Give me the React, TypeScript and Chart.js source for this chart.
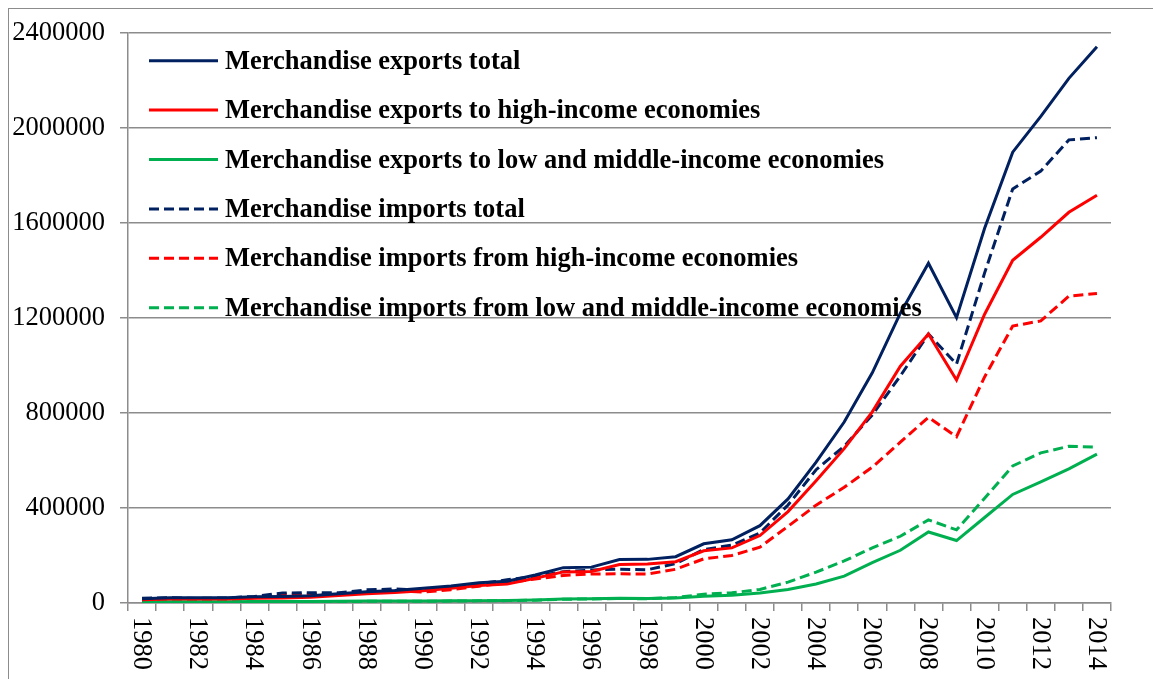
import React, { useEffect, useRef } from "react";
import { Chart, registerables } from "chart.js";

Chart.register(...registerables);

const years: string[] = [
  "1980", "1981", "1982", "1983", "1984", "1985", "1986", "1987", "1988", "1989",
  "1990", "1991", "1992", "1993", "1994", "1995", "1996", "1997", "1998", "1999",
  "2000", "2001", "2002", "2003", "2004", "2005", "2006", "2007", "2008", "2009",
  "2010", "2011", "2012", "2013", "2014",
];

const exportsTotal: number[] = [
  18099, 22007, 22321, 22226, 26139, 27350, 30942, 39437, 47516, 52538,
  62091, 71843, 84940, 91744, 118000, 148780, 151048, 182792, 183712, 194931,
  249203, 266098, 325596, 438228, 593326, 761953, 968978, 1220060, 1430693, 1201612,
  1577754, 1898381, 2048714, 2209004, 2342293,
];

const exportsHigh: number[] = [
  14000, 17000, 17000, 17000, 20000, 21000, 24000, 32000, 39000, 44000,
  52000, 62000, 74000, 80000, 104000, 131000, 133000, 162000, 164000, 174000,
  220000, 232000, 284000, 385000, 515000, 650000, 805000, 997000, 1133000, 939000,
  1216000, 1443000, 1540000, 1645000, 1717000,
];

const exportsLow: number[] = [
  4000, 5000, 5000, 5000, 6000, 6000, 6500, 7000, 8000, 8000,
  8500, 9000, 10000, 11000, 13000, 17000, 18000, 20000, 19000, 21000,
  28000, 33000, 42000, 57000, 80000, 113000, 170000, 222000, 299000, 263000,
  360000, 457000, 510000, 565000, 627000,
];

const importsTotal: number[] = [
  20017, 22015, 19285, 21390, 27410, 42252, 42904, 43216, 55275, 59140,
  53345, 63791, 80585, 98000, 112000, 132084, 138833, 142370, 140237, 165699,
  225094, 243553, 295170, 412760, 561229, 659953, 791461, 956116, 1132567, 1005923,
  1390000, 1743484, 1818405, 1949989, 1959235,
];

const importsHigh: number[] = [
  15000, 17000, 14000, 16000, 22000, 36000, 37000, 37000, 48000, 52000,
  46000, 56000, 71000, 86000, 101000, 116000, 122000, 123000, 122000, 142000,
  186000, 200000, 235000, 323000, 412000, 487000, 572000, 677000, 782000, 700000,
  952000, 1166000, 1188000, 1292000, 1303000,
];

const importsLow: number[] = [
  5000, 5000, 5000, 5000, 5500, 6000, 6000, 6000, 7000, 7000,
  7000, 8000, 9000, 10000, 12000, 16000, 17000, 19000, 18000, 23000,
  37000, 43000, 57000, 88000, 130000, 177000, 232000, 281000, 350000, 308000,
  441000, 577000, 632000, 660000, 656000,
];

const yTicks: number[] = [0, 400000, 800000, 1200000, 1600000, 2000000, 2400000];

const seriesLabels: string[] = [
  "Merchandise exports total",
  "Merchandise exports to high-income economies",
  "Merchandise exports to low and middle-income economies",
  "Merchandise imports total",
  "Merchandise imports from high-income economies",
  "Merchandise imports from low and middle-income economies",
];

const NAVY = "#002060";
const RED = "#FF0000";
const GREEN = "#00B050";
const GRID = "#8c8c8c";
const FAMILY = '"Liberation Serif", "Times New Roman", serif';
const DASH = [10, 5];

const xLabelPlugin = {
  id: "xLabelsRotated",
  afterDraw(chart: any) {
    const xs = chart.scales.x;
    const ctx = chart.ctx as CanvasRenderingContext2D;
    const labels = chart.data.labels as string[];
    ctx.save();
    ctx.font = `26.5px ${FAMILY}`;
    ctx.fillStyle = "#000";
    ctx.textAlign = "left";
    ctx.textBaseline = "middle";
    labels.forEach((lab, i) => {
      if (i % 2 !== 0) return;
      const x = xs.getPixelForValue(i);
      ctx.save();
      ctx.translate(x, xs.top + 14);
      ctx.rotate(Math.PI / 2);
      ctx.fillText(lab, 0, 1);
      ctx.restore();
    });
    ctx.restore();
  },
};

const legendPlugin = {
  id: "insideLegend",
  afterDraw(chart: any) {
    const ctx = chart.ctx as CanvasRenderingContext2D;
    const area = chart.chartArea;
    ctx.save();
    ctx.font = `bold 26.5px ${FAMILY}`;
    ctx.textAlign = "left";
    ctx.textBaseline = "alphabetic";
    chart.data.datasets.forEach((ds: any, i: number) => {
      const y = area.top + 27.7 + i * 49.4;
      ctx.beginPath();
      ctx.setLineDash(ds.borderDash || []);
      ctx.lineWidth = 3;
      ctx.strokeStyle = ds.borderColor;
      ctx.moveTo(area.left + 21, y);
      ctx.lineTo(area.left + 90, y);
      ctx.stroke();
      ctx.setLineDash([]);
      ctx.fillStyle = "#000";
      ctx.fillText(ds.label, area.left + 97, y + 8);
    });
    ctx.restore();
  },
};

export default function App() {
  const ref = useRef<HTMLCanvasElement | null>(null);

  useEffect(() => {
    if (!ref.current) return;
    const mk = (label: string, data: number[], color: string, dashed: boolean) => ({
      label,
      data,
      borderColor: color,
      backgroundColor: color,
      borderWidth: 3,
      borderDash: dashed ? DASH : [],
      pointRadius: 0,
      tension: 0,
      fill: false,
    });
    const chart = new Chart(ref.current, {
      type: "line",
      data: {
        labels: years,
        datasets: [
          mk(seriesLabels[0], exportsTotal, NAVY, false),
          mk(seriesLabels[1], exportsHigh, RED, false),
          mk(seriesLabels[2], exportsLow, GREEN, false),
          mk(seriesLabels[3], importsTotal, NAVY, true),
          mk(seriesLabels[4], importsHigh, RED, true),
          mk(seriesLabels[5], importsLow, GREEN, true),
        ],
      },
      options: {
        animation: false,
        responsive: false,
        devicePixelRatio: 1,
        layout: { padding: { top: 33, right: 42, left: 0, bottom: 0 } },
        plugins: {
          legend: { display: false },
          tooltip: { enabled: false },
        },
        scales: {
          x: {
            type: "category",
            offset: true,
            grid: {
              offset: true,
              drawOnChartArea: false,
              drawTicks: true,
              tickLength: 8,
              color: GRID,
              lineWidth: 1.5,
            },
            border: { display: true, color: GRID, width: 1.5 },
            ticks: { display: false, autoSkip: false },
            afterFit: (s: any) => {
              s.height = 76;
            },
          },
          y: {
            min: yTicks[0],
            max: yTicks[yTicks.length - 1],
            afterBuildTicks: (s: any) => {
              s.ticks = yTicks.map((v) => ({ value: v }));
            },
            ticks: {
              font: { family: FAMILY, size: 26.5 },
              color: "#000",
              padding: 15,
              callback: (v: any) => String(v),
            },
            grid: { color: GRID, lineWidth: 1.5, tickLength: 8, drawTicks: true },
            border: { display: true, color: GRID, width: 1.5 },
            afterFit: (s: any) => {
              s.width = 128;
            },
          },
        },
      } as any,
      plugins: [xLabelPlugin, legendPlugin],
    });
    return () => chart.destroy();
  }, []);

  return (
    <div>
      <div
        style={{
          position: "fixed",
          left: 8,
          top: 8,
          width: 1300,
          height: 800,
          borderLeft: `1px solid ${GRID}`,
          borderTop: `1px solid ${GRID}`,
          pointerEvents: "none",
        }}
      />
      <canvas
        ref={ref}
        width={1153}
        height={679}
        style={{ position: "fixed", left: 0, top: 0, width: 1153, height: 679 }}
      />
    </div>
  );
}
